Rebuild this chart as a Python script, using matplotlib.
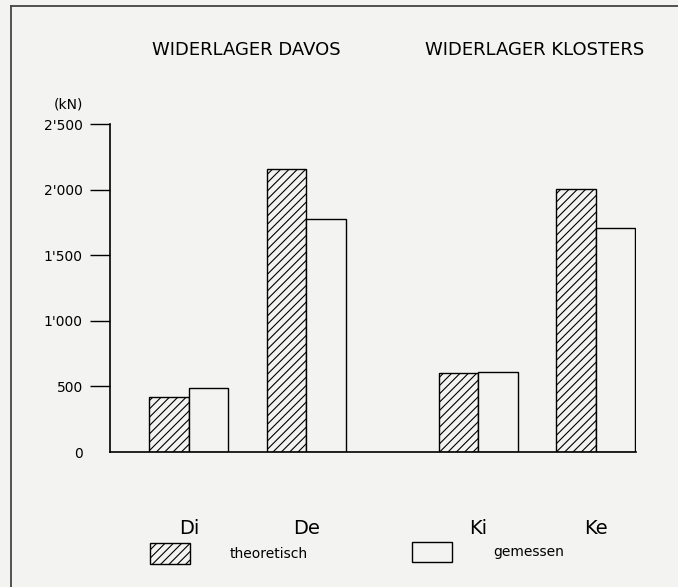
import numpy as np
import matplotlib
matplotlib.use('Agg')
import matplotlib.pyplot as plt
from matplotlib.patches import Rectangle
from matplotlib.lines import Line2D

# Widerlagerkräfte (kN)
kategorien = ['Di', 'De', 'Ki', 'Ke']
theoretisch = [420, 2160, 605, 2005]
gemessen = [490, 1775, 610, 1710]
yticks = [0, 500, 1000, 1500, 2000, 2500]
ytick_labels = ['0', '500', "1'000", "1'500", "2'000", "2'500"]
titel = ['WIDERLAGER DAVOS', 'WIDERLAGER KLOSTERS']

bg = '#f3f3f1'
plt.rcParams['font.family'] = ['DejaVu Sans']
plt.rcParams['hatch.linewidth'] = 0.8

fig = plt.figure(figsize=(6.78, 5.87), dpi=100, facecolor=bg)
ax = fig.add_axes([110/678, 1-452/587, 526/678, 328/587])
ax.set_facecolor(bg)

pos = np.array([2.0, 4.97, 9.32, 12.3])
w = 1.0
ax.bar(pos - w/2, theoretisch, w, facecolor=bg, edgecolor='black',
       hatch='////', linewidth=1.0)
ax.bar(pos + w/2, gemessen, w, facecolor=bg, edgecolor='black', linewidth=1.0)

ax.set_xlim(0, 13.32)
ax.set_ylim(0, 2500)
for s in ['top', 'right']:
    ax.spines[s].set_visible(False)
ax.spines['left'].set_linewidth(1.2)
ax.spines['bottom'].set_linewidth(1.2)

ax.set_yticks(yticks)
ax.set_yticklabels(ytick_labels, fontsize=10)
ax.tick_params(axis='y', length=14.5, width=1.0, pad=5)
ax.yaxis.get_major_ticks()[0].tick1line.set_visible(False)

ax.set_xticks(pos)
ax.set_xticklabels(kategorien, fontsize=14)
ax.tick_params(axis='x', length=0, pad=48)

# Titel und Einheit
fig.text(246/678, 1-50/587, titel[0], ha='center', va='center', fontsize=13)
fig.text(535/678, 1-50/587, titel[1], ha='center', va='center', fontsize=13)
fig.text(68/678, 1-104/587, '(kN)', ha='center', va='center', fontsize=10)

# Legende
fig.add_artist(Rectangle((150/678, 1-564/587), 40/678, 21/587, transform=fig.transFigure,
                         facecolor=bg, edgecolor='black', hatch='////', linewidth=1.0))
fig.add_artist(Rectangle((412/678, 1-562/587), 40/678, 20/587, transform=fig.transFigure,
                         facecolor=bg, edgecolor='black', linewidth=1.0))
fig.text(230/678, 1-554/587, 'theoretisch', ha='left', va='center', fontsize=10)
fig.text(493/678, 1-552/587, 'gemessen', ha='left', va='center', fontsize=10)

# Rahmen
fig.add_artist(Line2D([11/678, 1], [1-6/587, 1-6/587], transform=fig.transFigure,
                      color='#444444', linewidth=1.3))
fig.add_artist(Line2D([11/678, 11/678], [0, 1-6/587], transform=fig.transFigure,
                      color='#444444', linewidth=1.3))

fig.savefig('out.png', dpi=100, facecolor=bg)
